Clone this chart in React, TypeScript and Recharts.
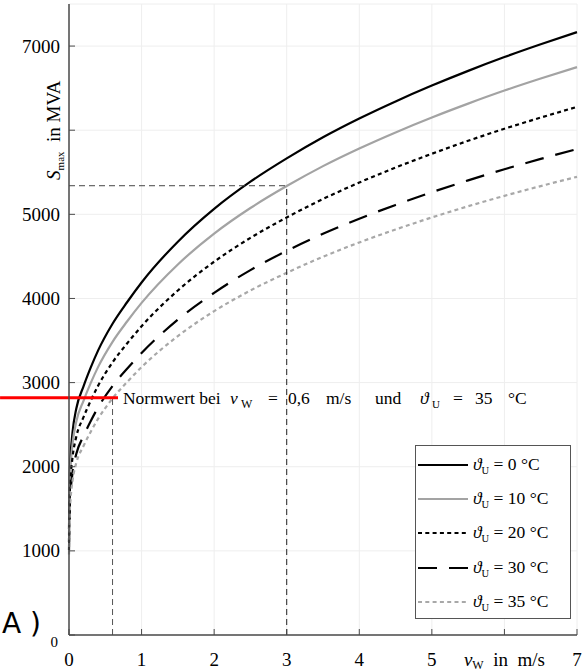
import React from 'react';
import { LineChart, Line, XAxis, YAxis, CartesianGrid, ReferenceLine, Legend } from 'recharts';

// wind speed v_W in m/s
const windSpeeds = [0, 0.01, 0.02, 0.05, 0.1, 0.2, 0.3, 0.4, 0.6, 0.8, 1, 1.5, 2, 2.5, 3, 3.5, 4, 4.5, 5, 5.5, 6, 6.5, 7];
// S_max in MVA for each ambient temperature
const sAt0 = [1260, 1900, 2100, 2420, 2690, 2955, 3180, 3380, 3700, 3955, 4190, 4675, 5065, 5388, 5665, 5916, 6139, 6342, 6530, 6705, 6869, 7021, 7166];
const sAt10 = [1187, 1790, 1978, 2280, 2534, 2784, 2996, 3184, 3485, 3726, 3947, 4404, 4771, 5075, 5336, 5573, 5783, 5974, 6151, 6316, 6471, 6614, 6750];
const sAt20 = [1104, 1664, 1840, 2120, 2356, 2589, 2786, 2961, 3241, 3465, 3670, 4095, 4437, 4720, 4963, 5182, 5378, 5556, 5720, 5874, 6017, 6150, 6277];
const sAt30 = [1008, 1520, 1680, 1936, 2152, 2364, 2544, 2704, 2960, 3164, 3352, 3749, 4067, 4337, 4566, 4768, 4948, 5112, 5263, 5404, 5536, 5659, 5776];
const sAt35 = [958, 1444, 1596, 1839, 2044, 2246, 2417, 2569, 2812, 3006, 3184, 3553, 3849, 4095, 4305, 4496, 4666, 4820, 4963, 5096, 5220, 5336, 5446];

const temperatures = ['0', '10', '20', '30', '35'];
const xTicks = [0, 1, 2, 3, 4, 5, 6, 7];
const yTicks = [0, 1000, 2000, 3000, 4000, 5000, 6000, 7000];

// annotation values
const normSpeed = 0.6;
const normValue = 2820;
const readSpeed = 3;
const readValue = 5340;
const redStart = -0.95;
const redEnd = 0.675;

const rows = windSpeeds.map((v, i) => ({
  v,
  s0: sAt0[i],
  s10: sAt10[i],
  s20: sAt20[i],
  s30: sAt30[i],
  s35: sAt35[i],
}));

const FONT = '"Liberation Serif", "Times New Roman", serif';
const AXIS = '#4a4a4a';

const seriesStyle = [
  { key: 's0', color: '#000000', dash: undefined as string | undefined },
  { key: 's10', color: '#a3a3a3', dash: undefined as string | undefined },
  { key: 's20', color: '#000000', dash: '4 3.3' },
  { key: 's30', color: '#000000', dash: '19 12' },
  { key: 's35', color: '#a8a8a8', dash: '4 3.3' },
];

function BottomTick(props: any) {
  const { x, y, payload } = props;
  const v = payload.value;
  return (
    <g>
      <line x1={x} x2={x} y1={y} y2={y - 6} stroke={AXIS} strokeWidth={1} />
      {v === 6 ? (
        <text x={x} y={y + 31} textAnchor="middle" fontFamily={FONT} fontSize={19} fill="#000" style={{ whiteSpace: 'pre' }}>
          <tspan fontStyle="italic">v</tspan>
          <tspan fontSize={12} dy={3}>W</tspan>
          <tspan dy={-3}>{'  in  m/s'}</tspan>
        </text>
      ) : (
        <text x={x} y={y + 31} textAnchor="middle" fontFamily={FONT} fontSize={19} fill="#000">
          {v}
        </text>
      )}
    </g>
  );
}

function LeftTick(props: any) {
  const { x, y, payload } = props;
  const v = payload.value;
  let label: React.ReactNode;
  if (v === 6000) {
    label = (
      <text
        x={60}
        y={y}
        transform={`rotate(-90, 60, ${y})`}
        textAnchor="middle"
        fontFamily={FONT}
        fontSize={19}
        fill="#000"
        style={{ whiteSpace: 'pre' }}
      >
        <tspan fontStyle="italic">S</tspan>
        <tspan fontSize={11} dy={4}>max</tspan>
        <tspan dy={-4}>{'  in MVA'}</tspan>
      </text>
    );
  } else if (v === 0) {
    label = (
      <text x={x - 11} y={y + 12} textAnchor="end" fontFamily={FONT} fontSize={15} fill="#000">
        0
      </text>
    );
  } else {
    label = (
      <text x={x - 9} y={y} dy="0.34em" textAnchor="end" fontFamily={FONT} fontSize={19} fill="#000">
        {v}
      </text>
    );
  }
  return (
    <g>
      <line x1={x} x2={x + 6} y1={y} y2={y} stroke={AXIS} strokeWidth={1} />
      {label}
    </g>
  );
}

function RightTick(props: any) {
  const { x, y } = props;
  return <line x1={x} x2={x - 6} y1={y} y2={y} stroke={AXIS} strokeWidth={1} />;
}

function TopTick(props: any) {
  const { x, y } = props;
  return <line x1={x} x2={x} y1={y} y2={y + 6} stroke={AXIS} strokeWidth={1} />;
}

function NoteLabel(props: any) {
  const vb = props.viewBox || {};
  const bx = (vb.x || 0) + (vb.width || 0) + 5;
  const by = (vb.y || 0) + 6;
  const common = { fontFamily: FONT, fill: '#000' } as any;
  return (
    <g>
      <text x={bx} y={by} fontSize={17.5} {...common}>Normwert bei</text>
      <text x={bx + 107} y={by} fontSize={17.5} fontStyle="italic" {...common}>v</text>
      <text x={bx + 118} y={by + 4} fontSize={12} {...common}>W</text>
      <text x={bx + 145} y={by} fontSize={17.5} {...common}>=</text>
      <text x={bx + 165} y={by} fontSize={17.5} {...common}>0,6</text>
      <text x={bx + 203} y={by} fontSize={17.5} {...common}>m/s</text>
      <text x={bx + 252} y={by} fontSize={17.5} {...common}>und</text>
      <text x={bx + 297} y={by} fontSize={17.5} fontStyle="italic" {...common}>ϑ</text>
      <text x={bx + 309} y={by + 4} fontSize={11} {...common}>U</text>
      <text x={bx + 330} y={by} fontSize={17.5} {...common}>=</text>
      <text x={bx + 352} y={by} fontSize={17.5} {...common}>35</text>
      <text x={bx + 385} y={by} fontSize={17.5} {...common}>°C</text>
    </g>
  );
}

function LegendBox() {
  return (
    <div
      style={{
        border: '1px solid #555',
        background: '#fff',
        width: 154,
        height: 170,
        paddingTop: 2,
        boxSizing: 'content-box',
      }}
    >
      {seriesStyle.map((s, i) => (
        <div key={s.key} style={{ height: 34.2, display: 'flex', alignItems: 'center' }}>
          <svg width={55} height={10} style={{ display: 'block' }}>
            <line x1={2} x2={52} y1={5} y2={5} stroke={s.color} strokeWidth={2.2} strokeDasharray={s.dash} />
          </svg>
          <span style={{ fontFamily: FONT, fontSize: 17.5, color: '#000', marginLeft: 2, whiteSpace: 'pre' }}>
            <i>ϑ</i>
            <span style={{ fontSize: 10.5, verticalAlign: -4 }}>U</span>
            {` = ${temperatures[i]} °C`}
          </span>
        </div>
      ))}
    </div>
  );
}

export default function App() {
  return (
    <div style={{ position: 'absolute', left: 0, top: 0, width: 582, height: 672, background: '#fff' }}>
      <LineChart width={582} height={672} data={rows} margin={{ top: 4, right: 5, left: 0, bottom: 0 }}>
        <CartesianGrid stroke="#eeeeee" strokeWidth={1} />
        <XAxis
          dataKey="v"
          type="number"
          domain={[0, 7]}
          ticks={xTicks}
          interval={0}
          height={37}
          tickSize={0}
          tickMargin={0}
          tickLine={false}
          tick={<BottomTick />}
          axisLine={{ stroke: AXIS, strokeWidth: 1.5 }}
        />
        <XAxis
          xAxisId="top"
          orientation="top"
          type="number"
          domain={[0, 7]}
          ticks={xTicks}
          interval={0}
          height={0}
          tickSize={0}
          tickMargin={0}
          tickLine={false}
          tick={<TopTick />}
          axisLine={{ stroke: AXIS, strokeWidth: 1.5 }}
        />
        <YAxis
          type="number"
          domain={[0, 7500]}
          ticks={yTicks}
          interval={0}
          width={69}
          tickSize={0}
          tickMargin={0}
          tickLine={false}
          tick={<LeftTick />}
          axisLine={{ stroke: AXIS, strokeWidth: 1.5 }}
        />
        <YAxis
          yAxisId="right"
          orientation="right"
          type="number"
          domain={[0, 7500]}
          ticks={yTicks}
          interval={0}
          width={0}
          tickSize={0}
          tickMargin={0}
          tickLine={false}
          tick={<RightTick />}
          axisLine={{ stroke: AXIS, strokeWidth: 1.5 }}
        />
        {seriesStyle.map((s) => (
          <Line
            key={s.key}
            dataKey={s.key}
            type="monotone"
            stroke={s.color}
            strokeWidth={2.2}
            strokeDasharray={s.dash}
            dot={false}
            activeDot={false}
            isAnimationActive={false}
          />
        ))}
        <ReferenceLine
          segment={[{ x: 0, y: readValue }, { x: readSpeed, y: readValue }]}
          stroke="#444"
          strokeWidth={1}
          strokeDasharray="6 4"
          ifOverflow="visible"
        />
        <ReferenceLine
          segment={[{ x: readSpeed, y: 0 }, { x: readSpeed, y: readValue }]}
          stroke="#222"
          strokeWidth={1}
          strokeDasharray="6 4"
          ifOverflow="visible"
        />
        <ReferenceLine
          segment={[{ x: normSpeed, y: 0 }, { x: normSpeed, y: normValue }]}
          stroke="#555"
          strokeWidth={1}
          strokeDasharray="6 4"
          ifOverflow="visible"
        />
        <ReferenceLine
          segment={[{ x: redStart, y: normValue }, { x: redEnd, y: normValue }]}
          stroke="#ff0000"
          strokeWidth={3}
          ifOverflow="visible"
          label={(p: any) => <NoteLabel {...p} />}
        />
        <Legend
          layout="vertical"
          align="center"
          verticalAlign="middle"
          content={() => <LegendBox />}
          wrapperStyle={{ left: 415, top: 445, width: 156, height: 174 }}
        />
      </LineChart>
      <div
        style={{
          position: 'absolute',
          left: 2,
          top: 604,
          fontFamily: '"DejaVu Sans", sans-serif',
          fontSize: 28,
          lineHeight: '40px',
          color: '#000',
          whiteSpace: 'pre',
        }}
      >
        {'A )'}
      </div>
    </div>
  );
}
